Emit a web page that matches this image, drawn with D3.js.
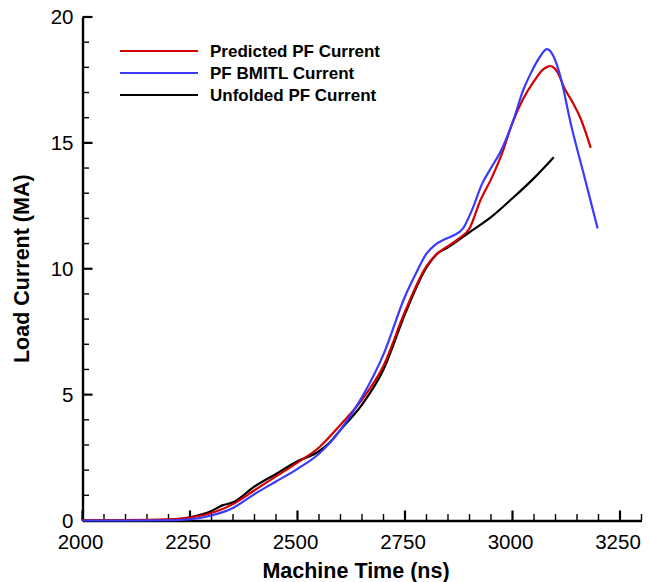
<!DOCTYPE html>
<html lang="en">
<head>
    <meta charset="UTF-8">
    <title>Load Current vs Machine Time</title>
    <script src="https://d3js.org/d3.v7.min.js"></script>
    <style>
        body {
            margin: 0;
            background: #fff;
            font-family: "Liberation Sans", Arial, sans-serif;
        }
        .axis path {
            stroke: #000;
            stroke-width: 2.4px;
        }
        .axis text {
            font-family: "Liberation Sans", Arial, sans-serif;
            font-size: 20.5px;
            fill: #000;
        }
        .axis-title {
            font-family: "Liberation Sans", Arial, sans-serif;
            font-size: 21.5px;
            font-weight: bold;
        }
        .legend-text {
            font-family: "Liberation Sans", Arial, sans-serif;
            font-size: 17px;
            font-weight: bold;
        }
    </style>
</head>
<body>
    <div id="chart"></div>

    <script>
        // Predicted PF Current
        const predictedTime = [2000, 2100, 2200, 2250, 2300, 2350, 2400, 2450, 2500, 2550, 2600, 2650, 2700, 2750, 2800, 2825, 2850, 2875, 2900, 2925, 2950, 2975, 3000, 3025, 3050, 3070, 3088, 3105, 3120, 3140, 3160, 3182];
        const predictedCurrent = [0.02, 0.02, 0.05, 0.12, 0.3, 0.65, 1.2, 1.75, 2.3, 2.9, 3.8, 4.8, 6.15, 8.3, 10.1, 10.6, 10.9, 11.2, 11.6, 12.7, 13.55, 14.55, 15.8, 16.75, 17.45, 17.9, 18.05, 17.8, 17.2, 16.6, 15.9, 14.8];

        // PF BMITL Current
        const bmitlTime = [2000, 2100, 2200, 2250, 2300, 2350, 2400, 2450, 2500, 2550, 2600, 2650, 2700, 2750, 2775, 2800, 2820, 2840, 2860, 2885, 2905, 2930, 2950, 2975, 3000, 3025, 3045, 3065, 3080, 3095, 3112, 3135, 3165, 3198];
        const bmitlCurrent = [0, 0, 0.01, 0.05, 0.2, 0.5, 1.05, 1.55, 2.05, 2.65, 3.6, 4.9, 6.6, 8.9, 9.8, 10.6, 10.95, 11.15, 11.3, 11.6, 12.3, 13.4, 14.0, 14.75, 15.8, 17.1, 17.85, 18.45, 18.72, 18.45, 17.6, 15.8, 13.8, 11.6];

        // Unfolded PF Current
        const unfoldedTime = [2000, 2100, 2200, 2250, 2300, 2325, 2350, 2400, 2450, 2500, 2550, 2575, 2600, 2650, 2700, 2750, 2800, 2825, 2850, 2900, 2950, 3000, 3050, 3096];
        const unfoldedCurrent = [0, 0, 0.03, 0.13, 0.38, 0.6, 0.72, 1.35, 1.85, 2.35, 2.75, 3.1, 3.6, 4.6, 6.0, 8.2, 10.05, 10.6, 10.85, 11.45, 12.05, 12.8, 13.6, 14.43];

        const seriesNames = ["Predicted PF Current", "PF BMITL Current", "Unfolded PF Current"];
        const seriesColors = ["#d40000", "#3a3aff", "#000000"];

        const xTicks = [2000, 2250, 2500, 2750, 3000, 3250];
        const yTicks = [0, 5, 10, 15, 20];
        const xMinorTicks = d3.range(2050, 3301, 50).filter(v => v % 250 !== 0);
        const yMinorTicks = d3.range(1, 20, 1).filter(v => v % 5 !== 0);

        const width = 650;
        const height = 582;

        const x = d3.scaleLinear().domain([2000, 3300]).range([82.5, 641.5]);
        const y = d3.scaleLinear().domain([0, 20]).range([520.5, 17]);

        const svg = d3.select("#chart")
            .append("svg")
            .attr("width", width)
            .attr("height", height);

        // axes: labels + domain lines from d3-axis, ticks drawn inward below
        svg.append("g")
            .attr("class", "axis")
            .attr("transform", `translate(0,${y(0)})`)
            .call(d3.axisBottom(x).tickValues(xTicks).tickFormat(d3.format("d"))
                .tickSize(0).tickPadding(14))
            .call(g => g.selectAll(".tick line").remove())
            .call(g => g.selectAll(".tick text").attr("dx", -2.5));
        svg.append("g")
            .attr("class", "axis")
            .attr("transform", `translate(${x(2000)},0)`)
            .call(d3.axisLeft(y).tickValues(yTicks).tickFormat(d3.format("d"))
                .tickSize(0).tickPadding(9))
            .call(g => g.selectAll(".tick line").remove());

        const ticks = svg.append("g").attr("stroke", "#000");

        ticks.selectAll(".xmajor").data(xTicks).join("line")
            .attr("class", "xmajor")
            .attr("x1", d => x(d)).attr("x2", d => x(d))
            .attr("y1", y(0)).attr("y2", y(0) - 10)
            .attr("stroke-width", 2.2);
        ticks.selectAll(".xminor").data(xMinorTicks).join("line")
            .attr("class", "xminor")
            .attr("x1", d => x(d)).attr("x2", d => x(d))
            .attr("y1", y(0)).attr("y2", y(0) - 6.5)
            .attr("stroke-width", 1.4);
        ticks.selectAll(".ymajor").data(yTicks).join("line")
            .attr("class", "ymajor")
            .attr("x1", x(2000)).attr("x2", x(2000) + 10)
            .attr("y1", d => y(d)).attr("y2", d => y(d))
            .attr("stroke-width", 2.2);
        ticks.selectAll(".yminor").data(yMinorTicks).join("line")
            .attr("class", "yminor")
            .attr("x1", x(2000)).attr("x2", x(2000) + 6.5)
            .attr("y1", d => y(d)).attr("y2", d => y(d))
            .attr("stroke-width", 1.4);

        const line = d3.line()
            .x(d => x(d[0]))
            .y(d => y(d[1]))
            .curve(d3.curveMonotoneX);

        const series = [
            d3.zip(predictedTime, predictedCurrent),
            d3.zip(bmitlTime, bmitlCurrent),
            d3.zip(unfoldedTime, unfoldedCurrent)
        ];

        // black underneath, then red and blue
        [2, 0, 1].forEach(i => {
            svg.append("path")
                .datum(series[i])
                .attr("fill", "none")
                .attr("stroke", seriesColors[i])
                .attr("stroke-width", 2.2)
                .attr("stroke-linejoin", "round")
                .attr("d", line);
        });

        // legend
        const legend = svg.append("g").attr("transform", "translate(120,51)");
        seriesNames.forEach((name, i) => {
            legend.append("line")
                .attr("x1", 0).attr("x2", 78)
                .attr("y1", i * 22).attr("y2", i * 22)
                .attr("stroke", seriesColors[i])
                .attr("stroke-width", 2.2);
            legend.append("text")
                .attr("class", "legend-text")
                .attr("x", 90)
                .attr("y", i * 22 + 6)
                .text(name);
        });

        // axis titles
        svg.append("text")
            .attr("class", "axis-title")
            .attr("x", 356)
            .attr("y", 578)
            .attr("text-anchor", "middle")
            .text("Machine Time (ns)");

        svg.append("text")
            .attr("class", "axis-title")
            .attr("transform", `translate(29,${(y(0) + y(20)) / 2}) rotate(-90)`)
            .attr("text-anchor", "middle")
            .text("Load Current (MA)");
    </script>
</body>
</html>
